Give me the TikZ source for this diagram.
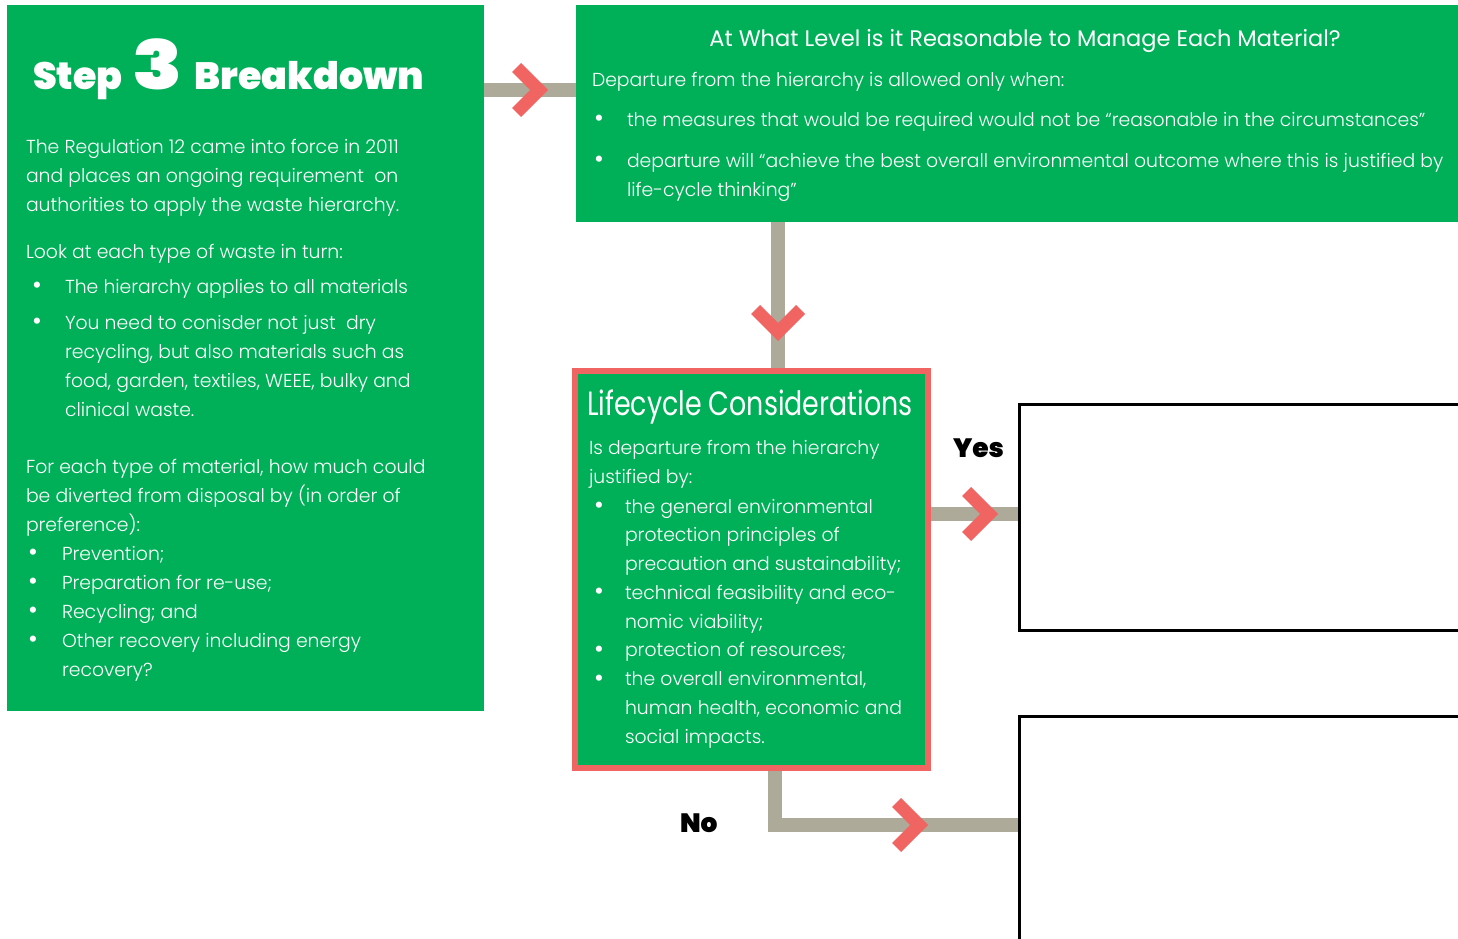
\documentclass[tikz,border=0pt]{standalone}
\usepackage{fontspec}
\usetikzlibrary{backgrounds}
\newfontfamily\bodyfont{Poppins Light}
\newfontfamily\midfont{Poppins}
\newfontfamily\heavyfont{Poppins Black}
\definecolor{wgreen}{RGB}{0,176,88}
\definecolor{wred}{RGB}{240,100,98}
\definecolor{wgray}{RGB}{173,170,153}
\begin{document}
\begin{tikzpicture}[x=1pt,y=-1pt,
  every node/.style={inner sep=0pt,outer sep=0pt},
  greenbox/.style={fill=wgreen,draw=none,rectangle},
  emptybox/.style={draw=black,line width=3pt,fill=white,rectangle},
  conn/.style={draw=wgray,line width=14pt},
  txt/.style={text=white,anchor=base west,align=left,font={\bodyfont\fontsize{18.8pt}{29pt}\selectfont}},
  bul/.style={text=white,anchor=base,font={\midfont\fontsize{25pt}{29pt}\selectfont}},
  lbl/.style={text=black,anchor=base west,font={\heavyfont\fontsize{26.5pt}{27pt}\selectfont}},
  chev/.pic={\fill[wred] (0,0) -- (-27,-27) -- (-36,-18) -- (-18,0) -- (-36,18) -- (-27,27) -- cycle;}
]
\useasboundingbox (0,0) rectangle (1458,939);

% boxes
\node[greenbox,minimum width=477pt,minimum height=706pt] (left) at (245.5,358) {};
\node[greenbox,minimum width=894pt,minimum height=217pt] (top) at (1023,113.5) {};
\node[fill=wgreen,draw=wred,line width=6pt,rectangle,minimum width=353pt,minimum height=397pt] (life) at (751.5,569.5) {};
\node[emptybox,minimum width=456pt,minimum height=226pt] (ybox) at (1247,517) {};
\node[emptybox,minimum width=456pt,minimum height=244pt] (nbox) at (1247,838) {};

% connectors
\coordinate (r1) at (0,90);
\coordinate (vx) at (778,0);
\coordinate (ry) at (0,514);
\coordinate (nx) at (775,0);
\coordinate (rn) at (0,825);
\begin{pgfonlayer}{background}
\fill[white] (0,0) rectangle (1458,939);
\draw[conn] (left.east |- r1) -- (top.west |- r1);
\draw[conn] (vx |- top.south) -- (vx |- life.north);
\draw[conn] (life.east |- ry) -- (ybox.west |- ry);
\draw[conn] (nx |- life.south) -- (nx |- rn) -- (nbox.west |- rn);
\end{pgfonlayer}
\pic at (548,90) {chev};
\pic[rotate=-90] at (778,341) {chev};
\pic at (998,514) {chev};
\pic at (928,825) {chev};

% left box text
\node[text=white,anchor=base west] (title) at (33,90) {\heavyfont\fontsize{38pt}{40pt}\selectfont Step\hspace{10pt}\scalebox{1.2}[1]{\fontsize{68pt}{68pt}\selectfont 3}\hspace{12pt}Breakdown};
\node[txt] (p1) at (26,211) {The Regulation 12 came into force in 2011\\and places an ongoing requirement\ \ on\\authorities to apply the waste hierarchy.};
\node[txt] (p2) at (26,258) {Look at each type of waste in turn:};
\node[bul] (b1) at (37,293) {•};
\node[txt] (i1) at (65,293) {The hierarchy applies to all materials};
\node[bul] (b2) at (37,329) {•};
\node[txt] (i2) at (65,416) {You need to conisder not just\ \ dry\\recycling, but also materials such as\\food, garden, textiles, WEEE, bulky and\\clinical waste.};
\node[txt] (p3) at (26,531) {For each type of material, how much could\\be diverted from disposal by (in order of\\preference):};
\node[bul] (b3) at (33,560) {•};
\node[bul] (b4) at (33,589) {•};
\node[bul] (b5) at (33,618) {•};
\node[bul] (b6) at (33,647) {•};
\node[txt] (i3) at (62,676) {Prevention;\\Preparation for re-use;\\Recycling; and\\Other recovery including energy\\recovery?};

% top box text
\node[text=white,anchor=base,font={\midfont\fontsize{22.5pt}{23pt}\selectfont}] (ttitle) at (1025,47) {At What Level is it Reasonable to Manage Each Material?};
\node[txt] (t1) at (592,87) {Departure from the hierarchy is allowed only when:};
\node[bul] (tb1) at (599,127) {•};
\node[txt] (t2) at (627,127) {the measures that would be required would not be “reasonable in the circumstances”};
\node[bul] (tb2) at (599,167) {•};
\node[txt] (t3) at (627,196) {departure will “achieve the best overall environmental outcome where this is justified by\\life-cycle thinking”};

% lifecycle text
\node[text=white,anchor=base west] (ltitle) at (587,415) {\scalebox{0.84}[1.05]{\midfont\fontsize{32pt}{32pt}\selectfont Lifecycle Considerations}};
\node[txt] (l1) at (589,483) {Is departure from the hierarchy\\justified by:};
\node[bul] (lb1) at (599,513) {•};
\node[bul] (lb2) at (599,599) {•};
\node[bul] (lb3) at (599,657) {•};
\node[bul] (lb4) at (599,686) {•};
\node[txt,font={\bodyfont\fontsize{18.8pt}{28.75pt}\selectfont}] (l2) at (625,743) {the general environmental\\protection principles of\\precaution and sustainability;\\technical feasibility and eco-\\nomic viability;\\protection of resources;\\the overall environmental,\\human health, economic and\\social impacts.};

% labels
\node[lbl] (yes) at (953,457) {Yes};
\node[lbl] (no) at (680,832) {No};
\end{tikzpicture}
\end{document}
